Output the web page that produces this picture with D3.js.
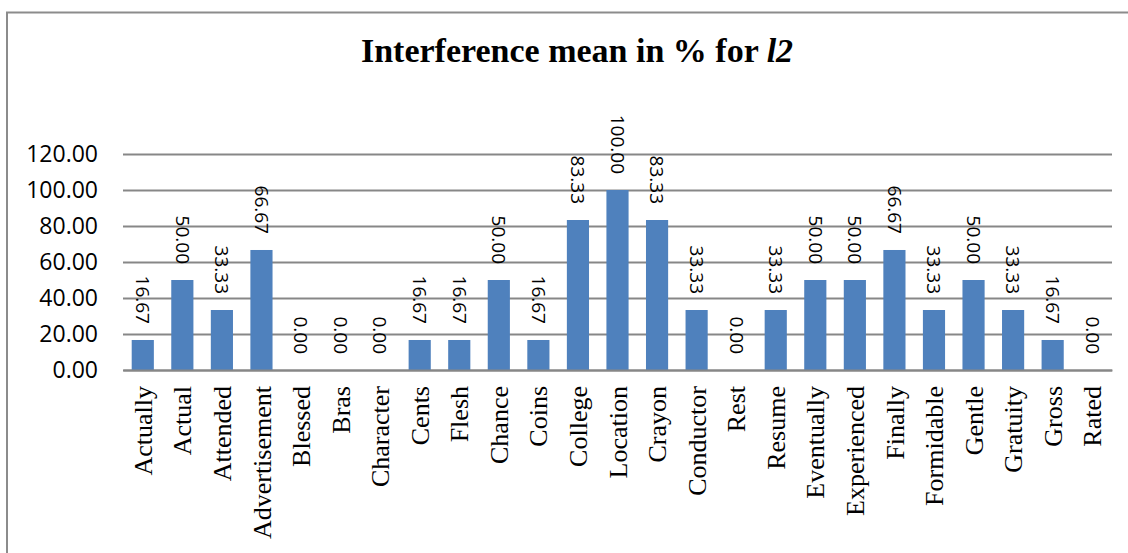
<!DOCTYPE html>
<html>
<head>
<meta charset="utf-8">
<script src="https://cdn.jsdelivr.net/npm/d3@7"></script>
<style>
  html, body { margin: 0; padding: 0; background: #fff; }
  svg { display: block; }
</style>
</head>
<body>
<svg id="chart" width="1128" height="553"></svg>
<script>
// Words tested and their interference mean (%)
const words = ["Actually", "Actual", "Attended", "Advertisement", "Blessed", "Bras",
  "Character", "Cents", "Flesh", "Chance", "Coins", "College", "Location", "Crayon",
  "Conductor", "Rest", "Resume", "Eventually", "Experienced", "Finally", "Formidable",
  "Gentle", "Gratuity", "Gross", "Rated"];
const interference = [16.67, 50.00, 33.33, 66.67, 0.00, 0.00, 0.00, 16.67, 16.67, 50.00,
  16.67, 83.33, 100.00, 83.33, 33.33, 0.00, 33.33, 50.00, 50.00, 66.67, 33.33, 50.00,
  33.33, 16.67, 0.00];
const yTicks = [0, 20, 40, 60, 80, 100, 120];

const svg = d3.select("#chart");
const W = 1128, H = 553;
const plot = { left: 123, right: 1112, top: 154, bottom: 370 };

// Chart frame (open to the right and bottom edges)
svg.append("rect")
  .attr("x", 7).attr("y", 12.5)
  .attr("width", W + 20).attr("height", H + 20)
  .attr("fill", "#fff").attr("stroke", "#8c8c8c").attr("stroke-width", 2);

const x = d3.scaleBand().domain(words).range([plot.left, plot.right])
  .paddingInner(0.44).paddingOuter(0.22);
const y = d3.scaleLinear().domain([0, 120]).range([plot.bottom, plot.top]);

// Title
const title = svg.append("text")
  .attr("x", 577).attr("y", 62)
  .attr("text-anchor", "middle")
  .attr("font-family", "'Liberation Serif', 'Times New Roman', serif")
  .attr("font-weight", "bold").attr("font-size", 34).attr("fill", "#000");
title.append("tspan").text("Interference mean in % for ");
title.append("tspan").attr("font-style", "italic").text("l2");

// Gridlines + y-axis labels
const yAxis = d3.axisLeft(y).tickValues(yTicks)
  .tickSize(-(plot.right - plot.left)).tickPadding(25)
  .tickFormat(d3.format(".2f"));
const gy = svg.append("g").attr("transform", `translate(${plot.left},0)`).call(yAxis);
gy.select(".domain").remove();
gy.selectAll(".tick line").attr("stroke", "#878787").attr("stroke-width", 2);
gy.selectAll(".tick text")
  .attr("font-family", "'Open Sans', 'Liberation Sans', sans-serif")
  .attr("font-size", 23).attr("fill", "#000");

// Bars
svg.append("g").selectAll("rect").data(words).join("rect")
  .attr("x", d => x(d))
  .attr("y", (d, i) => y(interference[i]))
  .attr("width", x.bandwidth())
  .attr("height", (d, i) => y(0) - y(interference[i]))
  .attr("fill", "#4f81bd");

// Value labels, rotated to read top to bottom
svg.append("g").selectAll("text").data(words).join("text")
  .attr("transform", (d, i) =>
    `translate(${x(d) + x.bandwidth() / 2},${y(interference[i]) - 16}) rotate(90)`)
  .attr("text-anchor", "end")
  .attr("dy", "0.35em")
  .attr("font-family", "'Open Sans', 'Liberation Sans', sans-serif")
  .attr("font-size", 19).attr("fill", "#000")
  .text((d, i) => d3.format(".2f")(interference[i]));

// Category axis
const xAxis = d3.axisBottom(x).tickSize(0).tickPadding(0);
const gx = svg.append("g").attr("transform", `translate(0,${plot.bottom})`).call(xAxis);
gx.select(".domain").attr("stroke", "#878787").attr("stroke-width", 2);
gx.selectAll(".tick text")
  .attr("transform", "translate(0,16) rotate(-90)")
  .attr("text-anchor", "end")
  .attr("dy", "0.35em").attr("y", 0).attr("x", 0)
  .attr("font-family", "'Liberation Serif', 'Times New Roman', serif")
  .attr("font-size", 26).attr("fill", "#000");
</script>
</body>
</html>
